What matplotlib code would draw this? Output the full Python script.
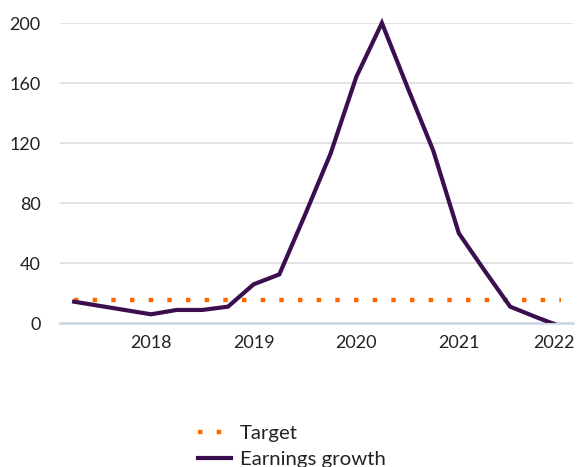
import matplotlib
matplotlib.use("Agg")
import matplotlib.pyplot as plt
import matplotlib.transforms as mtransforms
from matplotlib.patches import Rectangle

plt.rcParams['font.family'] = ['Lato', 'DejaVu Sans']

# quarterly series, 2017 Q2 .. 2022 Q1
quarters = ["2017Q2", "2017Q3", "2017Q4", "2018Q1", "2018Q2", "2018Q3", "2018Q4",
            "2019Q1", "2019Q2", "2019Q3", "2019Q4", "2020Q1", "2020Q2", "2020Q3",
            "2020Q4", "2021Q1", "2021Q2", "2021Q3", "2021Q4", "2022Q1"]
earnings_growth = [14.2, 11.4, 8.6, 5.8, 8.7, 8.7, 10.9,
                   25.8, 32.4, 72, 113, 164, 200, 157,
                   115, 59.8, 35, 10.9, 4, -2.5]
target = [15.5] * len(quarters)
year_labels = ["2018", "2019", "2020", "2021", "2022"]
year_quarters = ["2018Q1", "2019Q1", "2020Q1", "2021Q1", "2022Q1"]

purple = "#3b0f4f"
orange = "#ff6a00"

fig = plt.figure(figsize=(5.79, 4.67), dpi=100)
ax = fig.add_axes([60 / 579, 1 - 323 / 467, 513 / 579, 300 / 467])

x = list(range(len(quarters)))
t_line, = ax.plot(x, target, color=orange, linestyle=(0, (1, 3.2)), linewidth=3.2,
                  label="Target", zorder=3)
e_line, = ax.plot(x, earnings_growth, color=purple, linewidth=3.0,
                  solid_joinstyle="miter", label="Earnings growth", zorder=4)
# keep the peak visible above the top, clip anything below zero
clip = Rectangle((0, 0), 1, 1.1, transform=ax.transAxes, visible=False)
ax.add_patch(clip)
e_line.set_clip_path(clip)

ax.set_xlim(-0.55, 19.45)
ax.set_ylim(0, 200)
ax.set_yticks([0, 40, 80, 120, 160, 200])
ax.set_xticks([quarters.index(q) for q in year_quarters])
ax.set_xticklabels(year_labels)

ax.grid(axis="y", color="#e2e2e2", linewidth=1.4)
ax.set_axisbelow(True)
for side in ["top", "right", "left"]:
    ax.spines[side].set_visible(False)
ax.spines["bottom"].set_color("#cfd8e6")
ax.spines["bottom"].set_linewidth(2)
ax.spines["bottom"].set_zorder(2)

ax.tick_params(axis="both", length=0, labelsize=13, labelcolor="#222222")
ax.tick_params(axis="y", pad=14)
ax.tick_params(axis="x", pad=9)

# last year label is pulled in so it stays inside the figure
lbl = ax.get_xticklabels()[-1]
lbl.set_transform(lbl.get_transform() + mtransforms.ScaledTranslation(-8 / 100, 0, fig.dpi_scale_trans))

fig.legend(handles=[t_line, e_line], loc="upper left",
           bbox_to_anchor=(188 / 579, 1 - 415 / 467), frameon=False,
           fontsize=14.7, handlelength=1.6, handletextpad=0.45,
           labelspacing=0.42, borderpad=0, labelcolor="#222222")

fig.savefig("out.png", dpi=100)
